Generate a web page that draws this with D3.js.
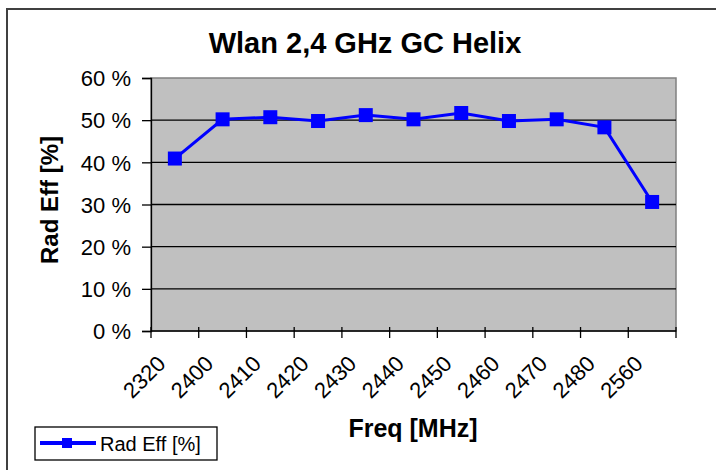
<!DOCTYPE html>
<html>
<head>
<meta charset="utf-8">
<script src="https://cdn.jsdelivr.net/npm/d3@7"></script>
<style>
    body { margin: 0; background: #fff; }
    text { font-family: "Liberation Sans", Arial, sans-serif; fill: #000; }
</style>
</head>
<body>
<div id="chart"></div>
<script>
// data
const freqs = ["2320", "2400", "2410", "2420", "2430", "2440", "2450", "2460", "2470", "2480", "2560"];
const radEff = [40.9, 50.2, 50.7, 49.8, 51.2, 50.2, 51.7, 49.8, 50.2, 48.3, 30.6];
const yTicks = [0, 10, 20, 30, 40, 50, 60];

const W = 716, H = 470;
const margin = { top: 78, right: 40, bottom: 139, left: 151 };
const width = W - margin.left - margin.right;
const height = H - margin.top - margin.bottom;

const svg = d3.select("#chart").append("svg")
    .attr("width", W)
    .attr("height", H);

// outer chart border (right / bottom are cut off in the picture)
svg.append("path")
    .attr("d", `M7,${H + 5} V9 H${W + 5}`)
    .attr("fill", "none")
    .attr("stroke", "#404040")
    .attr("stroke-width", 2);

svg.append("text")
    .attr("x", 365)
    .attr("y", 53)
    .attr("text-anchor", "middle")
    .style("font-weight", "bold")
    .style("font-size", "29px")
    .text("Wlan 2,4 GHz GC Helix");

const g = svg.append("g")
    .attr("transform", `translate(${margin.left},${margin.top})`);

// scales
const x = d3.scaleBand().domain(freqs).range([0, width]);
const y = d3.scaleLinear().domain([0, 60]).range([height, 0]);

// plot area
g.append("rect")
    .attr("width", width)
    .attr("height", height)
    .attr("fill", "#c0c0c0")
    .attr("stroke", "#808080")
    .attr("stroke-width", 1.5);

// grid lines
g.selectAll(".grid")
    .data(yTicks.filter(d => d > 0 && d < 60))
    .join("line")
    .attr("x1", 0)
    .attr("x2", width)
    .attr("y1", d => y(d))
    .attr("y2", d => y(d))
    .attr("stroke", "#000")
    .attr("stroke-width", 1.3);

// y axis
const yAxis = d3.axisLeft(y)
    .tickValues(yTicks)
    .tickSize(9)
    .tickPadding(11)
    .tickFormat(d => d + " %");

g.append("g")
    .attr("class", "y-axis")
    .call(yAxis)
    .call(a => a.select(".domain").attr("stroke", "#000").attr("stroke-width", 1.3))
    .call(a => a.selectAll("line").attr("stroke-width", 1.3))
    .call(a => a.selectAll("text").style("font-size", "22px").attr("dy", "0.35em"));

// x axis: ticks at the band edges
const xAxisG = g.append("g")
    .attr("transform", `translate(0,${height})`);

xAxisG.append("line")
    .attr("x1", 0).attr("x2", width)
    .attr("stroke", "#000").attr("stroke-width", 1.3);

xAxisG.selectAll(".xtick")
    .data(freqs.concat(["end"]))
    .join("line")
    .attr("x1", (d, i) => i * x.step())
    .attr("x2", (d, i) => i * x.step())
    .attr("y1", -4)
    .attr("y2", 7)
    .attr("stroke", "#000")
    .attr("stroke-width", 1.3);

xAxisG.selectAll(".xlabel")
    .data(freqs)
    .join("text")
    .attr("text-anchor", "end")
    .attr("transform", d => `translate(${x(d) + x.bandwidth() / 2 - 8},${34}) rotate(-45)`)
    .style("font-size", "22px")
    .text(d => d);

// axis titles
svg.append("text")
    .attr("transform", `translate(58,${200}) rotate(-90)`)
    .attr("text-anchor", "middle")
    .style("font-weight", "bold")
    .style("font-size", "24px")
    .text("Rad Eff [%]");

svg.append("text")
    .attr("x", 413)
    .attr("y", 437)
    .attr("text-anchor", "middle")
    .style("font-weight", "bold")
    .style("font-size", "25px")
    .text("Freq [MHz]");

// series
const line = d3.line()
    .x((d, i) => x(freqs[i]) + x.bandwidth() / 2)
    .y(d => y(d));

g.append("path")
    .datum(radEff)
    .attr("d", line)
    .attr("fill", "none")
    .attr("stroke", "#0000ff")
    .attr("stroke-width", 3);

g.selectAll(".marker")
    .data(radEff)
    .join("rect")
    .attr("x", (d, i) => x(freqs[i]) + x.bandwidth() / 2 - 7)
    .attr("y", d => y(d) - 7)
    .attr("width", 14)
    .attr("height", 14)
    .attr("fill", "#0000ff");

// legend
const legend = svg.append("g").attr("transform", "translate(35,427)");
legend.append("rect")
    .attr("width", 182)
    .attr("height", 33)
    .attr("fill", "#fff")
    .attr("stroke", "#000")
    .attr("stroke-width", 1.3);
legend.append("line")
    .attr("x1", 5).attr("x2", 61)
    .attr("y1", 16).attr("y2", 16)
    .attr("stroke", "#0000ff")
    .attr("stroke-width", 4);
legend.append("rect")
    .attr("x", 27).attr("y", 11)
    .attr("width", 10).attr("height", 10)
    .attr("fill", "#0000ff");
legend.append("text")
    .attr("x", 65)
    .attr("y", 24)
    .style("font-size", "20px")
    .text("Rad Eff [%]");
</script>
</body>
</html>
